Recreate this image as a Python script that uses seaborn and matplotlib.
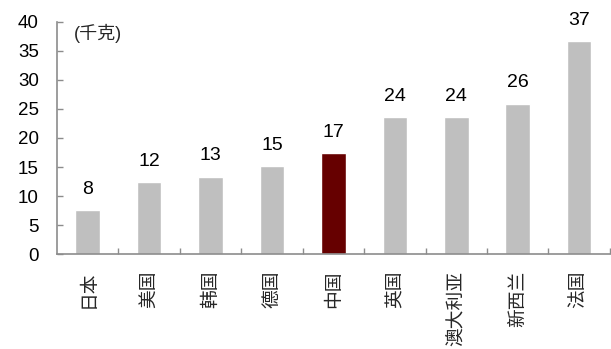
import matplotlib
matplotlib.use("Agg")
import matplotlib.pyplot as plt
import seaborn as sns
import pandas as pd
import numpy as np

# Data
countries = ["日本", "美国", "韩国", "德国", "中国", "英国", "澳大利亚", "新西兰", "法国"]
values = [7.6, 12.4, 13.3, 15.1, 17.4, 23.6, 23.6, 25.9, 36.6]
highlight = "中国"
unit_label = "(千克)"

sns.set_theme(style="white")
plt.rcParams["font.family"] = ["Liberation Sans", "Noto Sans CJK SC", "DejaVu Sans"]

df = pd.DataFrame({"country": countries, "value": values})
palette = {c: ("#660000" if c == highlight else "#BFBFBF") for c in countries}

fig = plt.figure(figsize=(6.11, 3.49), dpi=100)
ax = fig.add_axes([0.0933, 0.2714, 0.9047, 0.6666])

sns.barplot(data=df, x="country", y="value", hue="country", palette=palette,
            width=0.4, legend=False, ax=ax, saturation=1)

ax.set_ylim(0, 40)
ax.set_xlim(-0.5, len(countries) - 0.5)
ax.set_yticks(np.arange(0, 41, 5))
ax.set_xlabel("")
ax.set_ylabel("")

spine_color = "#8C8C8C"
for side in ["top", "right"]:
    ax.spines[side].set_visible(False)
for side in ["left", "bottom"]:
    ax.spines[side].set_color(spine_color)
    ax.spines[side].set_linewidth(1.2)

ax.tick_params(axis="y", direction="in", length=4, width=1, color=spine_color,
               left=True, pad=13, labelsize=13.5, labelcolor="black")
ax.tick_params(axis="x", which="major", length=0, pad=12, labelsize=13.5)
ax.set_xticks(np.arange(len(countries)) + 0.5, minor=True)
ax.tick_params(axis="x", which="minor", direction="in", length=4, width=1,
               color=spine_color, bottom=True)

for lab in ax.get_xticklabels():
    lab.set_rotation(90)
    lab.set_family(["Noto Sans CJK SC", "DejaVu Sans"])

for i, v in enumerate(values):
    ax.annotate(f"{v:.0f}", (i, v), xytext=(0, 9), textcoords="offset points",
                ha="center", va="bottom", fontsize=14, color="black")

ax.text(0.03, 0.99, unit_label, transform=ax.transAxes, ha="left", va="top",
        fontsize=13, family=["Liberation Sans", "Noto Sans CJK SC"])

fig.savefig("out.png", dpi=100)
